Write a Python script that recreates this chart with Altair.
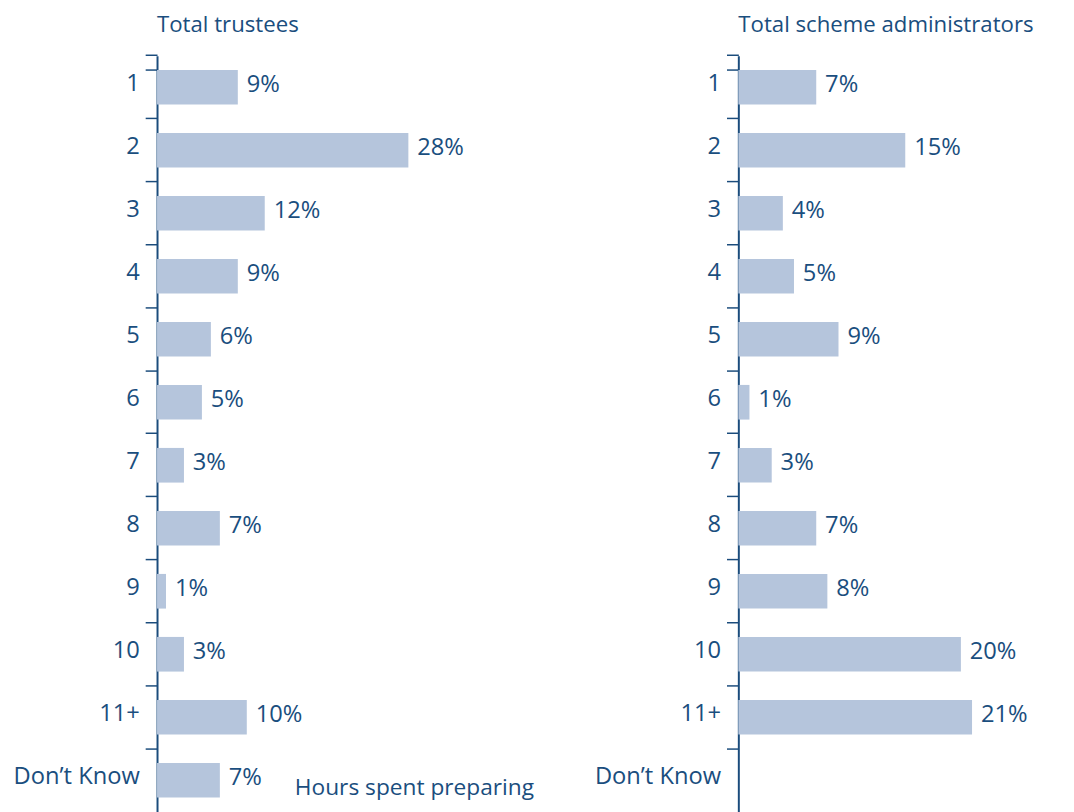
import altair as alt
import pandas as pd

categories = ["1", "2", "3", "4", "5", "6", "7", "8", "9", "10", "11+", "Don’t Know"]
trustee_values = [9, 28, 12, 9, 6, 5, 3, 7, 1, 3, 10, 7]
admin_categories = ["1", "2", "3", "4", "5", "6", "7", "8", "9", "10", "11+"]
admin_values = [7, 15, 4, 5, 9, 1, 3, 7, 8, 20, 21]
panel_titles = ["Total trustees", "Total scheme administrators"]
axis_note = "Hours spent preparing"

TEXT = "#1a4e7e"
AXIS = "#1b4c7c"
BAR = "#b5c5dc"
FONT = "Open Sans"
H = 766
PAD_IN = 0.45
BAND_POS = -(PAD_IN / 2) / (1 - PAD_IN)


def panel(cats, vals, title, xmax, width, note=None):
    df = pd.DataFrame({"cat": cats, "val": vals, "lab": [f"{v}%" for v in vals]})
    y = alt.Y(
        "cat:N",
        sort=categories,
        scale=alt.Scale(domain=categories, paddingInner=PAD_IN, paddingOuter=PAD_IN / 2),
        axis=alt.Axis(
            title=None,
            bandPosition=BAND_POS,
            tickExtra=True,
            tickSize=12,
            labelPadding=6,
            labelOffset=-3,
            domainColor=AXIS,
            tickColor=AXIS,
            labelColor=TEXT,
            labelFontSize=24,
            labelFont=FONT,
            domainWidth=2,
            tickWidth=1.5,
            grid=False,
        ),
    )
    x = alt.X("val:Q", scale=alt.Scale(domain=[0, xmax]), axis=None)
    bars = alt.Chart(df).mark_bar(color=BAR).encode(x=x, y=y)
    labels = alt.Chart(df).mark_text(
        align="left", dx=9, dy=-2, font=FONT, fontSize=24, color=TEXT
    ).encode(x=x, y=y, text="lab:N")
    layers = [bars, labels]
    if note:
        ndf = pd.DataFrame({"cat": [categories[-1]], "val": [xmax], "lab": [note]})
        layers.append(
            alt.Chart(ndf).mark_text(
                align="right", dy=8, font=FONT, fontSize=23, color=TEXT
            ).encode(x=x, y=y, text="lab:N")
        )
    return alt.layer(*layers).properties(
        width=width,
        height=H,
        title=alt.TitleParams(title, anchor="start", frame="group"),
    )


left = panel(categories, trustee_values, panel_titles[0], 42, 382, note=axis_note)
right = panel(admin_categories, admin_values, panel_titles[1], 29, 327)

chart = (
    alt.hconcat(left, right, spacing=61)
    .properties(padding={"left": 5, "top": 0, "right": 5, "bottom": 5})
    .configure_view(stroke=None)
    .configure_title(font=FONT, fontSize=22.5, color=TEXT, fontWeight="normal", offset=8)
)

chart.save("out.html", embed_options={"renderer": "svg", "actions": False})
